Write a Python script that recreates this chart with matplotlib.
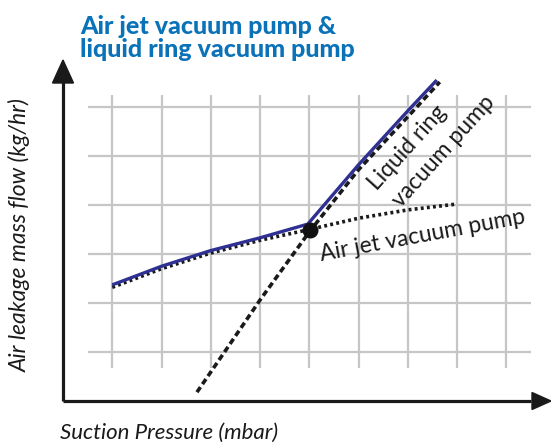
import matplotlib
matplotlib.use("Agg")
import matplotlib.pyplot as plt
from matplotlib.patches import Polygon

plt.rcParams['font.family'] = ['Lato', 'DejaVu Sans']

# ---- data ----
grid_x = [1, 2, 3, 4, 5, 6, 7, 8, 9]
grid_y = [1, 2, 3, 4, 5, 6]

airjet_x = [1.0, 2.0, 3.0, 4.0, 5.0, 6.0, 7.0, 8.0]
airjet_y = [2.32, 2.70, 3.02, 3.28, 3.50, 3.73, 3.90, 4.02]

liquid_x = [2.72, 3.3, 4.0, 5.0, 6.0, 7.0, 7.65]
liquid_y = [0.18, 1.03, 2.06, 3.45, 4.72, 5.80, 6.51]

combined_x = [1.0, 2.0, 3.0, 4.0, 4.97, 6.0, 7.0, 7.59]
combined_y = [2.37, 2.75, 3.07, 3.33, 3.61, 4.82, 5.92, 6.55]

knee_x = [5.02]
knee_y = [3.49]

title = "Air jet vacuum pump &\nliquid ring vacuum pump"
xlabel = "Suction Pressure (mbar)"
ylabel = "Air leakage mass flow (kg/hr)"

# ---- figure ----
W, H = 551, 445
fig = plt.figure(figsize=(W / 100, H / 100), dpi=100)
ax = fig.add_axes([0, 0, 1, 1])
ax.set_axis_off()
ox, oy = 63, 401          # pixel position of origin
sx, sy = 49.25, 49.0      # pixels per unit
ax.set_xlim(-ox / sx, (W - ox) / sx)
ax.set_ylim(-(H - oy) / sy, oy / sy)

grid_c = '#c6c6c6'
ax.vlines(grid_x, 0.68, 6.25, color=grid_c, lw=1.6, zorder=1)
ax.hlines(grid_y, 0.5, 9.5, color=grid_c, lw=1.6, zorder=1)

# axes with arrows
ax.plot([0, 0], [0, 6.6], color='#1a1a1a', lw=2.3, solid_capstyle='butt', zorder=3)
ax.plot([0, 9.5], [0, 0], color='#1a1a1a', lw=2.3, solid_capstyle='butt', zorder=3)
ax.add_patch(Polygon([(-10.5 / sx, (401 - 83) / sy), (10.5 / sx, (401 - 83) / sy),
                      (0, (401 - 60) / sy)], closed=True, color='#1a1a1a', zorder=3))
ax.add_patch(Polygon([((532 - ox) / sx, 8.5 / sy), ((532 - ox) / sx, -8.5 / sy),
                      ((551 - ox) / sx, 0)], closed=True, color='#1a1a1a', zorder=3))

# curves
ax.plot(airjet_x, airjet_y, color='#1a1a1a', lw=2.6, linestyle=(0, (0.8, 0.9)),
        zorder=4)
ax.plot(liquid_x, liquid_y, color='#1a1a1a', lw=2.6, linestyle=(0, (1.7, 1.0)),
        zorder=4)
ax.plot(combined_x, combined_y, color='#2e3192', lw=2.4, zorder=5,
        solid_capstyle='butt', solid_joinstyle='round')
ax.scatter(knee_x, knee_y, s=110, color='#111111', zorder=6)

# labels
ax.text((80 - ox) / sx, (401 - 57) / sy, title, color='#0a72b8', fontsize=18,
        fontweight='black', ha='left', va='baseline', linespacing=1.0)
ax.text((321 - ox) / sx, (401 - 261) / sy, "Air jet vacuum pump", fontsize=16.5,
        rotation=10.5, rotation_mode='anchor', ha='left', va='baseline',
        color='#1a1a1a')
ax.text((377 - ox) / sx, (401 - 191) / sy, "Liquid ring", fontsize=16.5,
        rotation=48, rotation_mode='anchor', ha='left', va='baseline',
        color='#1a1a1a')
ax.text((401 - ox) / sx, (401 - 208) / sy, "vacuum pump", fontsize=16.5,
        rotation=48, rotation_mode='anchor', ha='left', va='baseline',
        color='#1a1a1a')
ax.text((20 - ox) / sx, (401 - 235) / sy, ylabel, fontsize=16.5, style='italic',
        rotation=90, ha='center', va='center', color='#1a1a1a')
ax.text((60 - ox) / sx, (401 - 433) / sy, xlabel, fontsize=16, style='italic',
        ha='left', va='center', color='#1a1a1a')

fig.savefig('out.png', dpi=100)
